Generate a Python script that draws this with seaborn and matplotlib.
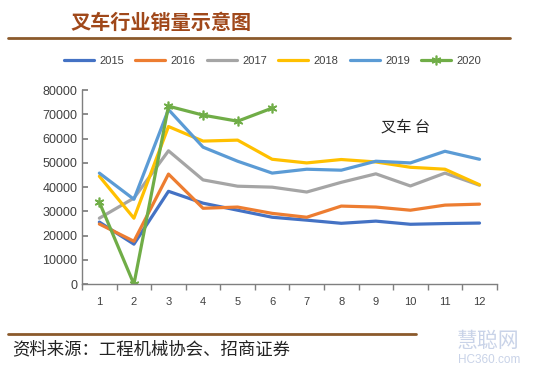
import numpy as np
import pandas as pd
import matplotlib
matplotlib.use("Agg")
import matplotlib.pyplot as plt
import seaborn as sns
from matplotlib.lines import Line2D

months = list(range(1, 13))
years = ["2015", "2016", "2017", "2018", "2019", "2020"]
sales_2015 = [25600, 16500, 38300, 33400, 30500, 27600, 26400, 25100, 26000, 24700, 25000, 25200]
sales_2016 = [24800, 17700, 45400, 31300, 31800, 29200, 27600, 32200, 31800, 30500, 32600, 33000]
sales_2017 = [27200, 35500, 55000, 43000, 40400, 40000, 38000, 42000, 45500, 40500, 45800, 40800]
sales_2018 = [44500, 27200, 65000, 59000, 59400, 51500, 50000, 51400, 50400, 48200, 47400, 41000]
sales_2019 = [45800, 35000, 72000, 56500, 50700, 45800, 47400, 47000, 50700, 50000, 54800, 51500]
sales_2020 = [33800, 0, 73400, 69700, 67200, 72600]
colors = ["#4472C4", "#ED7D31", "#A5A5A5", "#FFC000", "#5B9BD5", "#70AD47"]

all_sales = [sales_2015, sales_2016, sales_2017, sales_2018, sales_2019, sales_2020]

sns.set_theme(style="white")
plt.rcParams["font.family"] = ["Liberation Sans", "Noto Sans CJK SC", "DejaVu Sans"]

fig = plt.figure(figsize=(5.4, 3.71), dpi=100)
ax = fig.add_axes([0.152, 0.234, 0.768, 0.523])

for yr, vals, c in zip(years, all_sales, colors):
    df = pd.DataFrame({"month": months[:len(vals)], "sales": vals})
    if yr == "2020":
        sns.lineplot(data=df, x="month", y="sales", ax=ax, color=c, linewidth=2.3,
                     marker=(6, 2, 0), markersize=7, markeredgecolor=c,
                     markeredgewidth=1.2, label=yr)
    else:
        sns.lineplot(data=df, x="month", y="sales", ax=ax, color=c, linewidth=2.3, label=yr)

ax.set_xlim(0.5, 12.5)
ax.set_ylim(0, 80000)
ax.set_yticks(np.arange(0, 80001, 10000))
ax.set_xticks(months)
ax.set_xticks(np.arange(0.5, 12.6, 1), minor=True)
ax.tick_params(axis="x", which="major", length=0, labelsize=8, colors="#404040", pad=9)
ax.tick_params(axis="x", which="minor", length=4, color="#7f7f7f", direction="out", bottom=True)
ax.tick_params(axis="y", labelsize=9, colors="#404040", length=4, color="#7f7f7f",
               direction="in", left=True)
ax.set_xlabel("")
ax.set_ylabel("")
for s in ["top", "right"]:
    ax.spines[s].set_visible(False)
for s in ["left", "bottom"]:
    ax.spines[s].set_color("#7f7f7f")
    ax.spines[s].set_linewidth(1.0)

ax.text(0.78, 0.81, "叉车 台", transform=ax.transAxes, fontsize=11, color="#222222",
        ha="center", va="center", family=["Noto Sans CJK SC"])

handles, labels = ax.get_legend_handles_labels()
fig.legend(handles, labels, loc="center", bbox_to_anchor=(0.505, 0.836), ncol=6, frameon=False,
           fontsize=8, handlelength=2.7, columnspacing=1.0, handletextpad=0.5,
           labelcolor="#404040")
ax.get_legend().remove()

fig.text(0.13, 0.94, "叉车行业销量示意图", fontsize=14.5, fontweight="bold", color="#A0481A",
         ha="left", va="center", family=["Noto Sans CJK SC"])
fig.add_artist(Line2D([0.015, 0.945], [0.897, 0.897], color="#8B5A2B", linewidth=2,
                      transform=fig.transFigure))
fig.add_artist(Line2D([0.015, 0.77], [0.1, 0.1], color="#8B5A2B", linewidth=2,
                      transform=fig.transFigure))
fig.text(0.022, 0.058, "资料来源：工程机械协会、招商证券", fontsize=12.5, color="#222222",
         ha="left", va="center", family=["Noto Sans CJK SC"])
fig.text(0.845, 0.08, "慧聪网", fontsize=15, color="#c9d3e8", ha="left", va="center",
         family=["Noto Sans CJK SC"])
fig.text(0.848, 0.03, "HC360.com", fontsize=8.5, color="#c9d3e8", ha="left", va="center")

fig.savefig("out.png", dpi=100)
